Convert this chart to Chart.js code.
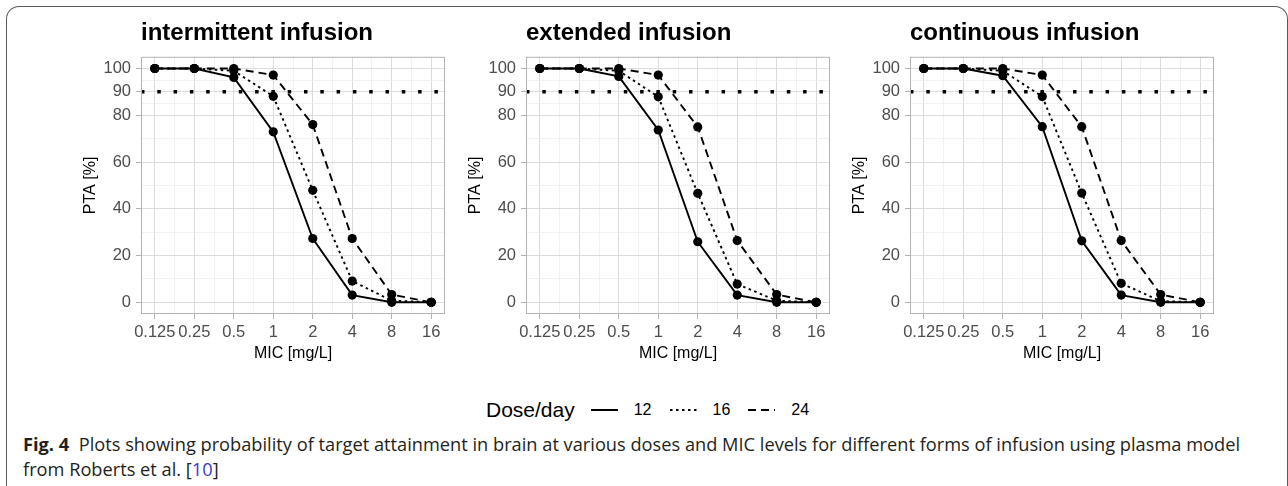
<!DOCTYPE html>
<html>
<head>
<meta charset="utf-8">
<script src="https://cdn.jsdelivr.net/npm/chart.js@4.4.0/dist/chart.umd.min.js"></script>
<style>
body{margin:0;width:1288px;height:486px;background:#fff;position:relative;overflow:hidden;font-family:"Liberation Sans",Arial,sans-serif}
#frame{position:absolute;left:6px;top:6px;width:1282px;height:520px;border:1.5px solid #5a5a5a;border-bottom:none;border-radius:13px 13px 0 0;box-sizing:border-box}
canvas{position:absolute;top:10px}
#legend{position:absolute;top:397px;left:486px;height:26px;display:flex;align-items:center;white-space:nowrap;color:#000}
#legend .ttl{font-size:21px}
#legend .lab{font-size:16px;margin-left:16px}
#legend svg{margin-left:16px}
#legend svg.gap{margin-left:18px}
#caption{position:absolute;left:23px;top:432px;font-family:"Open Sans","Noto Sans",sans-serif;font-size:18px;line-height:25px;color:#231f20;white-space:nowrap;transform-origin:0 0}
#caption .ref{color:#3a3ad0}
</style>
</head>
<body>
<div id="frame"></div>
<canvas id="c0" width="389" height="353"></canvas>
<canvas id="c1" width="389" height="353"></canvas>
<canvas id="c2" width="389" height="353"></canvas>
<div id="legend"></div>
<div id="caption"><span id="cap1"><b>Fig. 4</b>&nbsp; Plots showing probability of target attainment in brain at various doses and MIC levels for different forms of infusion using plasma model</span><br>from Roberts et al. [<span class="ref">10</span>]</div>
<script>
const MIC = [0.125, 0.25, 0.5, 1, 2, 4, 8, 16];
const MIC_LABELS = ['0.125', '0.25', '0.5', '1', '2', '4', '8', '16'];
const Y_TICKS = [0, 20, 40, 60, 80, 90, 100];
const Y_MINOR = [10, 30, 50, 70, 85, 95];
const THRESHOLD = 90;
const DOSES = ['12', '16', '24'];
const TITLES = ['intermittent infusion', 'extended infusion', 'continuous infusion'];

// PTA [%] per dose/day
const intermittent12 = [100, 100, 96.2, 72.9, 27.3, 3.1, 0, 0];
const intermittent16 = [100, 100, 99, 88.1, 47.9, 9.1, 0.7, 0];
const intermittent24 = [100, 100, 100, 97.2, 76, 27.3, 3.3, 0];
const extended12 = [100, 100, 96.6, 73.7, 25.9, 3.1, 0, 0];
const extended16 = [100, 100, 99, 87.9, 46.6, 7.8, 0.7, 0];
const extended24 = [100, 100, 100, 97.2, 75, 26.4, 3.3, 0];
const continuous12 = [100, 100, 96.9, 75.1, 26.3, 3.1, 0, 0];
const continuous16 = [100, 100, 99, 88, 46.7, 8.1, 0.5, 0];
const continuous24 = [100, 100, 100, 97.2, 75.1, 26.4, 3.3, 0];

const PANELS = [
  [intermittent12, intermittent16, intermittent24],
  [extended12, extended16, extended24],
  [continuous12, continuous16, continuous24]
];
const DASHES = [[], [2.5, 3.5], [8, 5]];
const PANEL_LEFT = [141, 526, 910];
const FONT = "'Liberation Sans', Arial, sans-serif";
const GRID_MAJOR = '#dcdcdc';
const GRID_MINOR = '#ececec';
const AXIS_GREY = '#b3b3b3';

const panelPlugin = {
  id: 'panel',
  afterDatasetsDraw(chart) {
    const ctx = chart.ctx, a = chart.chartArea;
    const yy = chart.scales.y.getPixelForValue(THRESHOLD);
    ctx.save();
    ctx.strokeStyle = '#000';
    ctx.lineWidth = 3.5;
    ctx.setLineDash([3.5, 12.8]);
    ctx.beginPath();
    ctx.moveTo(a.left, yy);
    ctx.lineTo(a.right, yy);
    ctx.stroke();
    ctx.setLineDash([]);
    ctx.strokeStyle = AXIS_GREY;
    ctx.lineWidth = 1;
    ctx.strokeRect(a.left + 0.5, a.top + 0.5, a.right - a.left - 1, a.bottom - a.top - 1);
    ctx.restore();
  }
};

function gridColor(c) { return c.tick && c.tick.major ? GRID_MAJOR : GRID_MINOR; }
function gridWidth(c) { return c.tick && c.tick.major ? 1 : 0.7; }
function tickColor(c) { return c.tick && c.tick.major ? AXIS_GREY : 'rgba(0,0,0,0)'; }

function makeChart(p) {
  const canvas = document.getElementById('c' + p);
  canvas.style.left = (PANEL_LEFT[p] - 65) + 'px';
  const datasets = DOSES.map((d, k) => ({
    label: d,
    data: MIC.map((m, i) => ({x: m, y: PANELS[p][k][i]})),
    borderColor: '#000',
    backgroundColor: '#000',
    borderWidth: 1.9,
    borderDash: DASHES[k],
    pointRadius: 4.6,
    pointBorderWidth: 0,
    pointBackgroundColor: '#000',
    tension: 0,
    fill: false
  }));
  const ex = Math.pow(2, 0.35);
  new Chart(canvas, {
    type: 'line',
    data: {datasets: datasets},
    options: {
      responsive: false,
      animation: false,
      devicePixelRatio: 1,
      layout: {padding: {left: 0, right: 20, top: 0, bottom: 0}},
      plugins: {
        legend: {display: false},
        tooltip: {enabled: false},
        title: {
          display: true, text: TITLES[p], align: 'start', fullSize: false, color: '#000',
          font: {family: FONT, size: 24, weight: 'bold'},
          padding: {top: 9, bottom: 9}
        }
      },
      scales: {
        x: {
          type: 'logarithmic',
          bounds: 'data',
          min: MIC[0] / ex,
          max: MIC[MIC.length - 1] * ex,
          afterBuildTicks: s => {
            const t = [];
            MIC.forEach((m, i) => {
              t.push({value: m, major: true});
              if (i < MIC.length - 1) t.push({value: Math.sqrt(m * MIC[i + 1]), major: false});
            });
            s.ticks = t;
          },
          afterFit: s => { s.height = 49; },
          ticks: {
            autoSkip: false, maxRotation: 0, minRotation: 0, padding: 4,
            color: '#4d4d4d', font: {family: FONT, size: 16.5},
            callback: v => { const i = MIC.indexOf(v); return i >= 0 ? MIC_LABELS[i] : ''; }
          },
          grid: {color: gridColor, lineWidth: gridWidth, tickColor: tickColor, tickLength: 5, tickWidth: 1},
          border: {display: false},
          title: {display: true, text: 'MIC [mg/L]', color: '#000', font: {family: FONT, size: 16}, padding: {top: 0, bottom: 0}}
        },
        y: {
          type: 'linear',
          bounds: 'data',
          min: -5,
          max: 105,
          afterBuildTicks: s => {
            s.ticks = Y_TICKS.concat(Y_MINOR).sort((a, b) => a - b)
              .map(v => ({value: v, major: Y_TICKS.includes(v)}));
          },
          afterFit: s => { s.width = 65; },
          ticks: {
            autoSkip: false, padding: 5,
            color: '#4d4d4d', font: {family: FONT, size: 16.5},
            callback: v => Y_TICKS.includes(v) ? String(v) : ''
          },
          grid: {color: gridColor, lineWidth: gridWidth, tickColor: tickColor, tickLength: 5, tickWidth: 1},
          border: {display: false},
          title: {display: true, text: 'PTA [%]', color: '#000', font: {family: FONT, size: 16}, padding: {top: 5, bottom: 4}}
        }
      }
    },
    plugins: [panelPlugin]
  });
}

[0, 1, 2].forEach(makeChart);

// legend
const legend = document.getElementById('legend');
let html = '<span class="ttl">Dose/day</span>';
DOSES.forEach((d, k) => {
  html += '<svg width="27" height="6"' + (k > 0 ? ' class="gap"' : '') + '><line x1="0" y1="3" x2="27" y2="3" stroke="#000" stroke-width="2" stroke-dasharray="' + (DASHES[k].length ? DASHES[k].join(',') : 'none') + '"/></svg>';
  html += '<span class="lab">' + d + '</span>';
});
legend.innerHTML = html;

// caption fitted to the width of the printed line
const cap = document.getElementById('caption');
const w = document.getElementById('cap1').getBoundingClientRect().width;
cap.style.transform = 'scaleX(' + (1217 / w) + ')';
</script>
</body>
</html>
